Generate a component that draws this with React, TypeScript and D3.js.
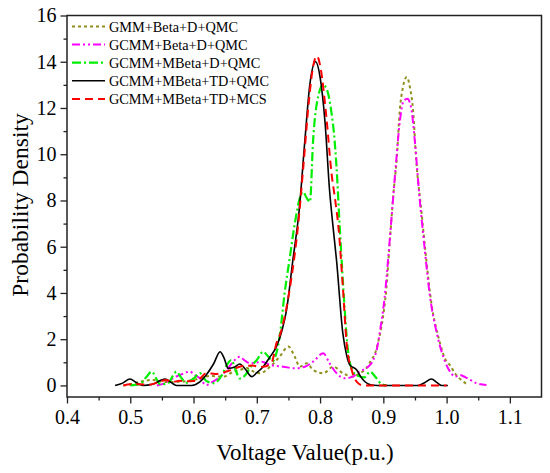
import * as React from 'react';
import * as d3 from 'd3';

// series: [voltage (p.u.), density]
const gmmBetaDQmc: [number, number][] = [
    [0.489, 0], [0.5, 0.05], [0.515, 0.16], [0.536, 0.24], [0.555, 0.15], [0.578, 0.16], [0.6, 0.24],
    [0.613, 0.33], [0.626, 0.41], [0.647, 0.38], [0.663, 0.6], [0.673, 0.67], [0.684, 0.75], [0.695, 0.6],
    [0.705, 0.53], [0.721, 0.81], [0.736, 1.24], [0.75, 1.68], [0.76, 1.24], [0.768, 0.81], [0.779, 0.96],
    [0.789, 0.67], [0.805, 0.53], [0.821, 0.81], [0.836, 0.53], [0.852, 0.38], [0.863, 0.53], [0.873, 0.74],
    [0.881, 1.1], [0.887, 1.39], [0.892, 1.9], [0.897, 2.54], [0.905, 4.27], [0.91, 6.14], [0.916, 8.3],
    [0.921, 9.74], [0.926, 11.9], [0.931, 12.9], [0.937, 13.34], [0.942, 12.9], [0.947, 11.9], [0.952, 9.74],
    [0.96, 7.58], [0.968, 5.42], [0.976, 3.55], [0.987, 2.1], [1.0, 1.03], [1.005, 0.89], [1.013, 0.53],
    [1.023, 0.24], [1.034, 0.02]
];

const gcmmBetaDQmc: [number, number][] = [
    [0.542, 0], [0.555, 0.1], [0.57, 0.35], [0.583, 0.5], [0.594, 0.6], [0.602, 0.45], [0.61, 0.31],
    [0.62, 0.02], [0.63, 0.15], [0.642, 0.38], [0.652, 0.65], [0.662, 1.0], [0.673, 1.24], [0.68, 1.1],
    [0.689, 0.96], [0.698, 0.98], [0.708, 1.03], [0.721, 0.89], [0.742, 0.81], [0.76, 0.74], [0.776, 0.81],
    [0.789, 1.03], [0.805, 1.39], [0.815, 0.96], [0.826, 0.53], [0.839, 0.31], [0.852, 0.38], [0.858, 0.53],
    [0.868, 0.67], [0.876, 0.81], [0.884, 1.1], [0.89, 1.6], [0.895, 2.4], [0.902, 3.8], [0.908, 5.6],
    [0.914, 7.6], [0.92, 9.6], [0.926, 11.4], [0.932, 12.3], [0.938, 12.4], [0.944, 12.0], [0.95, 10.5],
    [0.957, 8.2], [0.965, 6.0], [0.973, 4.0], [0.985, 2.2], [0.998, 1.0], [1.008, 0.5], [1.013, 0.38],
    [1.021, 0.45], [1.03, 0.35], [1.047, 0.1], [1.063, 0.02]
];

const gcmmMBetaDQmc: [number, number][] = [
    [0.5, 0], [0.515, 0.05], [0.525, 0.35], [0.534, 0.6], [0.541, 0.3], [0.547, 0.05], [0.56, 0.1],
    [0.567, 0.4], [0.573, 0.6], [0.58, 0.35], [0.589, 0.12], [0.6, 0.3], [0.61, 0.53], [0.62, 0.2],
    [0.632, 0.1], [0.645, 0.45], [0.653, 0.9], [0.66, 1.1], [0.666, 0.7], [0.673, 0.3], [0.682, 0.45],
    [0.69, 0.8], [0.7, 1.1], [0.71, 1.46], [0.718, 1.25], [0.725, 1.05], [0.731, 1.4], [0.736, 2.1],
    [0.744, 4.0], [0.752, 5.5], [0.76, 7.0], [0.768, 8.1], [0.773, 8.37], [0.779, 8.1], [0.784, 7.94],
    [0.789, 10.6], [0.797, 12.5], [0.805, 13.0], [0.812, 12.7], [0.818, 11.8], [0.822, 10.9], [0.826, 9.45],
    [0.831, 6.9], [0.839, 3.26], [0.844, 1.53], [0.852, 0.6], [0.86, 0.42], [0.87, 0.35], [0.879, 0.6],
    [0.888, 0.35], [0.897, 0.06], [0.905, 0]
];

const gcmmMBetaTdQmc: [number, number][] = [
    [0.476, 0], [0.488, 0.1], [0.4995, 0.28], [0.51, 0.12], [0.52, 0], [0.535, 0.05], [0.555, 0.28],
    [0.565, 0.12], [0.573, 0], [0.597, 0], [0.61, 0.15], [0.62, 0.45], [0.632, 0.95], [0.642, 1.46],
    [0.648, 1.2], [0.655, 0.74], [0.665, 0.8], [0.673, 0.93], [0.682, 0.7], [0.692, 0.38], [0.7, 0.55],
    [0.71, 0.81], [0.72, 1.2], [0.731, 1.68], [0.74, 2.4], [0.747, 3.26], [0.757, 5.42], [0.767, 7.58],
    [0.776, 10.6], [0.784, 13.05], [0.793, 14.0], [0.8, 13.34], [0.808, 11.33], [0.815, 8.44], [0.82, 7.0],
    [0.826, 5.42], [0.836, 2.25], [0.842, 1.3], [0.847, 0.89], [0.858, 0.67], [0.865, 0.35], [0.871, 0.16],
    [0.881, 0.02], [0.89, 0], [0.955, 0], [0.965, 0.12], [0.976, 0.28], [0.985, 0.12], [0.992, 0], [1.002, 0]
];

const gcmmMBetaTdMcs: [number, number][] = [
    [0.489, 0], [0.5, 0.05], [0.515, 0.05], [0.53, 0.03], [0.545, 0.15], [0.557, 0.24], [0.567, 0.15],
    [0.578, 0.2], [0.59, 0.18], [0.6, 0.19], [0.61, 0.3], [0.62, 0.53], [0.635, 0.5], [0.652, 0.6],
    [0.663, 0.7], [0.673, 0.81], [0.684, 0.85], [0.694, 0.86], [0.703, 0.8], [0.71, 0.81], [0.723, 0.96],
    [0.731, 1.82], [0.738, 2.3], [0.744, 2.97], [0.755, 4.7], [0.765, 6.86], [0.774, 9.6], [0.782, 12.2],
    [0.789, 13.8], [0.795, 14.25], [0.801, 13.7], [0.81, 11.6], [0.818, 9.2], [0.824, 8.0], [0.829, 6.86],
    [0.836, 4.27], [0.842, 1.82], [0.85, 0.67], [0.86, 0.1], [0.868, 0], [1.0, 0]
];

const seriesNames = [
    'GMM+Beta+D+QMC',
    'GCMM+Beta+D+QMC',
    'GCMM+MBeta+D+QMC',
    'GCMM+MBeta+TD+QMC',
    'GCMM+MBeta+TD+MCS'
];
const seriesData = [gmmBetaDQmc, gcmmBetaDQmc, gcmmMBetaDQmc, gcmmMBetaTdQmc, gcmmMBetaTdMcs];
const seriesColors = ['#8f8f1c', '#ff00ff', '#00ee00', '#000000', '#ff0000'];
const seriesDash = ['3,3', '8,3,2,3,2,3', '9,3,2,3', null, '8,5'];
const seriesWidth = [2, 2, 2.2, 1.6, 2];

const xTicks = [0.4, 0.5, 0.6, 0.7, 0.8, 0.9, 1.0, 1.1];
const yTicks = [0, 2, 4, 6, 8, 10, 12, 14, 16];

const FONT = "'Liberation Serif', 'Times New Roman', serif";

export default function App() {
    const ref = React.useRef<SVGSVGElement>(null);

    React.useEffect(() => {
        const margin = { top: 15.5, right: 8.5, bottom: 76, left: 67 };
        const width = 550;
        const height = 473;

        const svg = d3.select(ref.current);
        svg.selectAll('*').remove();
        svg.attr('font-family', FONT);

        const x = d3.scaleLinear().domain([0.4, 1.15]).range([margin.left, width - margin.right]);
        const y = d3.scaleLinear().domain([-0.5, 16]).range([height - margin.bottom, margin.top]);

        // bottom axis, major + minor ticks
        const xMinor = d3.range(0.45, 1.15, 0.1);
        svg.append('g')
            .attr('transform', 'translate(0,' + (height - margin.bottom) + ')')
            .call(d3.axisBottom(x).tickValues(xMinor).tickSize(3.5).tickFormat(() => ''))
            .call(g => g.select('.domain').remove());
        const gx = svg.append('g')
            .attr('transform', 'translate(0,' + (height - margin.bottom) + ')')
            .call(d3.axisBottom(x).tickValues(xTicks).tickSize(6.5).tickPadding(6).tickFormat(d3.format('.1f')));
        gx.select('.domain').remove();
        gx.attr('font-family', FONT).attr('font-size', 20);
        gx.selectAll('text').attr('fill', '#000');

        // left axis
        const yMinor = d3.range(1, 16, 2);
        svg.append('g')
            .attr('transform', 'translate(' + margin.left + ',0)')
            .call(d3.axisLeft(y).tickValues(yMinor).tickSize(3.5).tickFormat(() => ''))
            .call(g => g.select('.domain').remove());
        const gy = svg.append('g')
            .attr('transform', 'translate(' + margin.left + ',0)')
            .call(d3.axisLeft(y).tickValues(yTicks).tickSize(6.5).tickPadding(4).tickFormat(d3.format('d')));
        gy.select('.domain').remove();
        gy.attr('font-family', FONT).attr('font-size', 20);
        gy.selectAll('text').attr('fill', '#000');

        svg.selectAll('.tick line').attr('stroke', '#222').attr('stroke-width', 1.3);

        // frame
        svg.append('rect')
            .attr('x', margin.left)
            .attr('y', margin.top)
            .attr('width', width - margin.left - margin.right)
            .attr('height', height - margin.top - margin.bottom)
            .attr('fill', 'none')
            .attr('stroke', '#222')
            .attr('stroke-width', 1.5);

        // curves
        const line = d3.line<[number, number]>()
            .x(d => x(d[0]))
            .y(d => y(d[1]))
            .curve(d3.curveMonotoneX);

        seriesData.forEach((data, i) => {
            const p = svg.append('path')
                .datum(data)
                .attr('d', line)
                .attr('fill', 'none')
                .attr('stroke', seriesColors[i])
                .attr('stroke-width', seriesWidth[i])
                .attr('stroke-linejoin', 'round');
            if (seriesDash[i]) p.attr('stroke-dasharray', seriesDash[i]);
        });

        // legend
        const legend = svg.append('g').attr('font-family', FONT).attr('font-size', 14.3);
        seriesNames.forEach((name, i) => {
            const ly = 26.5 + i * 18.1;
            const l = legend.append('line')
                .attr('x1', 72)
                .attr('x2', 105)
                .attr('y1', ly)
                .attr('y2', ly)
                .attr('stroke', seriesColors[i])
                .attr('stroke-width', seriesWidth[i]);
            if (seriesDash[i]) l.attr('stroke-dasharray', seriesDash[i]);
            legend.append('text')
                .attr('x', 109)
                .attr('y', ly + 5)
                .text(name);
        });

        // axis titles
        svg.append('text')
            .attr('x', 305)
            .attr('y', 460)
            .attr('text-anchor', 'middle')
            .attr('font-size', 23)
            .text('Voltage Value(p.u.)');
        svg.append('text')
            .attr('transform', 'translate(28,205) rotate(-90)')
            .attr('text-anchor', 'middle')
            .attr('font-size', 23.5)
            .text('Probability Density');
    }, []);

    return (
        <svg ref={ref} width={550} height={473}
             style={{ position: 'absolute', left: 0, top: 0, background: '#fff' }} />
    );
}
